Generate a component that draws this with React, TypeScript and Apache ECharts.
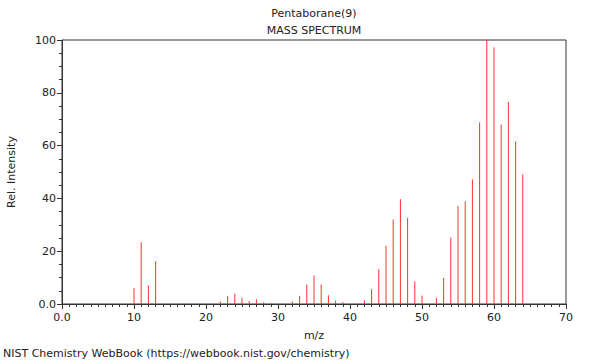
import React, { useEffect, useRef } from "react";
import * as echarts from "echarts";

const mzValues = [10, 11, 12, 13, 22, 23, 24, 25, 26, 27, 28, 29, 32, 33, 34, 35, 36, 37, 38, 39, 41, 42, 43, 44, 45, 46, 47, 48, 49, 50, 52, 53, 54, 55, 56, 57, 58, 59, 60, 61, 62, 63, 64];
const intensities = [6.1, 23.4, 7.1, 16.2, 0.9, 3.0, 3.9, 2.3, 1.1, 1.8, 0.6, 0.3, 0.9, 3.1, 7.4, 10.8, 7.4, 3.3, 1.3, 0.7, 0.2, 1.4, 5.6, 13.2, 22.0, 32.0, 39.7, 32.6, 8.5, 3.2, 2.3, 9.9, 25.2, 37.1, 38.9, 47.2, 68.8, 100, 97.2, 68.0, 76.6, 61.6, 49.1];

const titleText = "Pentaborane(9)";
const subtitleText = "MASS SPECTRUM";
const xName = "m/z";
const yName = "Rel. Intensity";
const footerText = "NIST Chemistry WebBook (https://webbook.nist.gov/chemistry)";

const FONT = "DejaVu Sans";
const AXIS = "#333333";
const TEXT = "#222222";

export default function App() {
  const ref = useRef<HTMLDivElement>(null);
  useEffect(() => {
    if (!ref.current) return;
    const chart = echarts.init(ref.current, null, { renderer: "svg" });
    const data = mzValues.map((m, i) => [m, intensities[i]]);
    const fmt = (v: number) => (v === 0 ? "0.0" : String(v));
    chart.setOption({
      animation: false,
      backgroundColor: "#ffffff",
      textStyle: { fontFamily: FONT },
      grid: {
        left: 62,
        right: 34,
        top: 40,
        bottom: 56,
        show: true,
        borderColor: AXIS,
        borderWidth: 1,
        backgroundColor: "transparent",
        outerBoundsMode: "none",
      },
      graphic: [
        { type: "text", x: 314, y: 13, style: { text: titleText, fill: TEXT, font: `11px "${FONT}"`, textAlign: "center", textVerticalAlign: "middle" } },
        { type: "text", x: 314, y: 30, style: { text: subtitleText, fill: TEXT, font: `11px "${FONT}"`, textAlign: "center", textVerticalAlign: "middle" } },
        { type: "text", x: 3, y: 353, style: { text: footerText, fill: TEXT, font: `11px "${FONT}"`, textAlign: "left", textVerticalAlign: "middle" } },
      ],
      xAxis: {
        type: "value",
        min: 0,
        max: 70,
        interval: 10,
        name: xName,
        nameLocation: "middle",
        nameGap: 26,
        nameTextStyle: { color: TEXT, fontSize: 11, fontFamily: FONT },
        axisLine: { show: true, lineStyle: { color: AXIS, width: 1 } },
        axisTick: { show: true, length: 5, lineStyle: { color: AXIS } },
        minorTick: { show: true, splitNumber: 10, length: 3, lineStyle: { color: AXIS } },
        splitLine: { show: false },
        axisLabel: { formatter: fmt, color: TEXT, fontSize: 11, fontFamily: FONT, margin: 8 },
      },
      yAxis: {
        type: "value",
        min: 0,
        max: 100,
        interval: 20,
        name: yName,
        nameLocation: "middle",
        nameGap: 45,
        nameRotate: 90,
        nameTextStyle: { color: TEXT, fontSize: 11, fontFamily: FONT },
        axisLine: { show: true, lineStyle: { color: AXIS, width: 1 } },
        axisTick: { show: true, length: 5, lineStyle: { color: AXIS } },
        minorTick: { show: true, splitNumber: 4, length: 3, lineStyle: { color: AXIS } },
        splitLine: { show: false },
        axisLabel: { formatter: fmt, color: TEXT, fontSize: 11, fontFamily: FONT, margin: 6 },
      },
      series: [
        {
          type: "custom",
          data,
          clip: true,
          renderItem: (params: any, api: any) => {
            const x = api.value(0);
            const y = api.value(1);
            const p0 = api.coord([x, 0]);
            const p1 = api.coord([x, y]);
            return {
              type: "line",
              shape: { x1: p0[0], y1: p0[1], x2: p1[0], y2: p1[1] },
              style: { stroke: "#ff3030", lineWidth: 1 },
            };
          },
        },
      ],
    });
    return () => chart.dispose();
  }, []);
  return <div ref={ref} style={{ position: "absolute", left: 0, top: 0, width: 600, height: 360 }} />;
}
